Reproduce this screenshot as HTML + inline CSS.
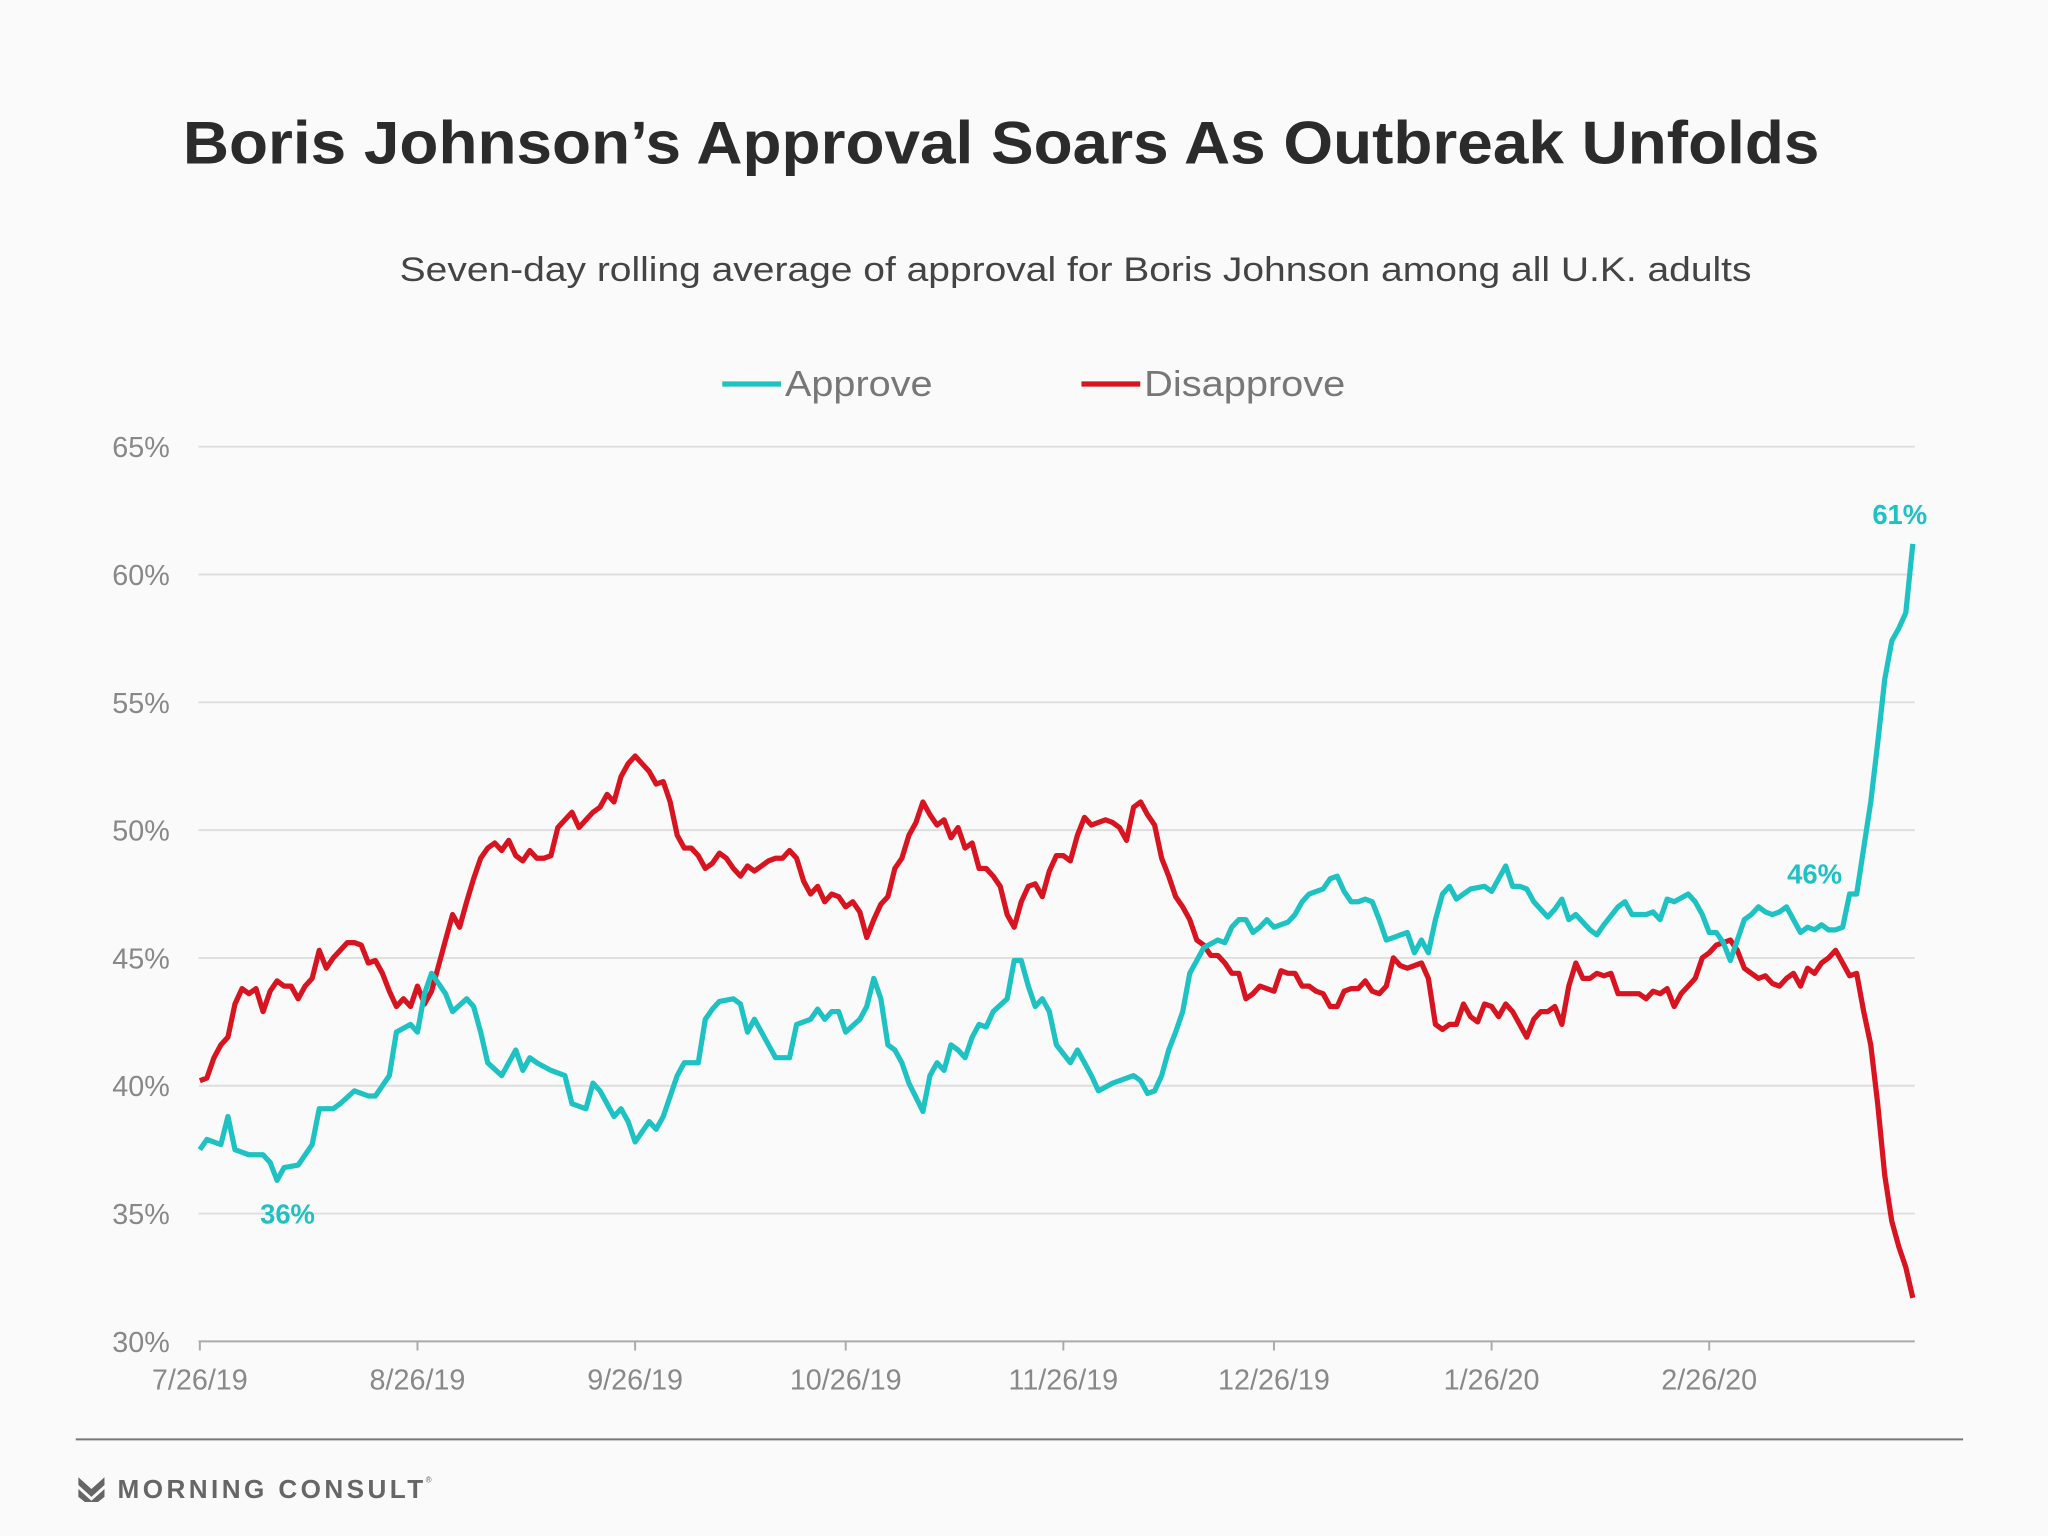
<!DOCTYPE html>
<html><head><meta charset="utf-8"><style>
html,body{margin:0;padding:0;background:#fafafa;}
svg{display:block;font-family:"Liberation Sans",sans-serif;}
</style></head><body>
<svg id="chart" width="2048" height="1536" viewBox="0 0 1568 1176" xmlns="http://www.w3.org/2000/svg">
<rect width="1568" height="1176" fill="#fafafa"/>
<text x="140" y="125" font-size="46" font-weight="bold" fill="#2b2b2b" textLength="1253" lengthAdjust="spacingAndGlyphs">Boris Johnson’s Approval Soars As Outbreak Unfolds</text>
<text x="306" y="215" font-size="26" fill="#444" textLength="1035" lengthAdjust="spacingAndGlyphs">Seven-day rolling average of approval for Boris Johnson among all U.K. adults</text>
<g>
 <g>
  <line x1="553" y1="294" x2="598" y2="294" stroke="#1fc2c2" stroke-width="4"/>
  <text x="601" y="303" font-size="28" fill="#777" textLength="113" lengthAdjust="spacingAndGlyphs">Approve</text>
 </g>
 <g>
  <line x1="828" y1="294" x2="873" y2="294" stroke="#d7141f" stroke-width="4"/>
  <text x="876" y="303" font-size="28" fill="#777" textLength="154" lengthAdjust="spacingAndGlyphs">Disapprove</text>
 </g>
</g>
<g id="grid"></g>
<g id="yaxis"></g>
<g id="xaxis"></g>
<g id="series"></g>
<g id="annots"></g>
<line x1="58" y1="1102" x2="1503" y2="1102" stroke="#777" stroke-width="1.5"/>
<g>
 <path d="M60 1131 L70 1140 L80 1131 L80 1137 L70 1146 L60 1137 Z M60 1140 L70 1149 L80 1140 L80 1146 L75 1150 L65 1150 L60 1146 Z" fill="#666"/>
 <text x="90" y="1147" font-size="20" font-weight="bold" fill="#666" textLength="234" lengthAdjust="spacing">MORNING CONSULT</text>
 <text x="326" y="1135" font-size="6" fill="#666">®</text>
</g>
</svg>
<script>
const yTicks = [30,35,40,45,50,55,60,65];
const yTickLabels = ["30%","35%","40%","45%","50%","55%","60%","65%"];
const xTickDays = [0,31,62,92,123,153,184,215];
const xTickLabels = ["7/26/19","8/26/19","9/26/19","10/26/19","11/26/19","12/26/19","1/26/20","2/26/20"];
const approveDays = [0,1,3,4,5,7,9,10,11,12,14,16,17,19,20,22,24,25,27,28,30,31,32,33,35,36,38,39,40,41,43,45,46,47,48,50,52,53,55,56,57,59,60,61,62,64,65,66,68,69,71,72,73,74,76,77,78,79,81,82,84,85,87,88,89,90,91,92,94,95,96,97,98,99,100,101,103,104,105,106,107,108,109,110,111,112,113,115,116,117,118,119,120,121,122,124,125,126,127,128,130,131,133,134,135,136,137,138,139,140,141,142,143,145,146,147,148,149,150,151,152,153,155,156,157,158,160,161,162,163,164,165,166,167,168,169,170,172,173,174,175,176,177,178,179,180,181,183,184,185,186,187,188,189,190,191,192,193,194,195,196,198,199,200,202,203,204,206,207,208,209,210,212,213,214,215,216,217,218,220,221,222,223,224,225,226,227,228,229,230,231,232,233,234,235,236,237,238,239,240,241,242,243,244];
const approveVals = [37.5,37.9,37.7,38.8,37.5,37.3,37.3,37.0,36.3,36.8,36.9,37.7,39.1,39.1,39.3,39.8,39.6,39.6,40.4,42.1,42.4,42.1,43.6,44.4,43.6,42.9,43.4,43.1,42.1,40.9,40.4,41.4,40.6,41.1,40.9,40.6,40.4,39.3,39.1,40.1,39.8,38.8,39.1,38.6,37.8,38.6,38.3,38.8,40.4,40.9,40.9,42.6,43.0,43.3,43.4,43.2,42.1,42.6,41.6,41.1,41.1,42.4,42.6,43.0,42.6,42.9,42.9,42.1,42.6,43.1,44.2,43.4,41.6,41.4,40.9,40.1,39.0,40.4,40.9,40.6,41.6,41.4,41.1,41.9,42.4,42.3,42.9,43.4,44.9,44.9,43.9,43.1,43.4,42.9,41.6,40.9,41.4,40.9,40.4,39.8,40.1,40.2,40.4,40.2,39.7,39.8,40.4,41.4,42.1,42.9,44.4,44.9,45.4,45.7,45.6,46.2,46.5,46.5,46.0,46.2,46.5,46.2,46.4,46.7,47.2,47.5,47.7,48.1,48.2,47.6,47.2,47.2,47.3,47.2,46.5,45.7,45.8,46.0,45.2,45.7,45.2,46.5,47.5,47.8,47.3,47.5,47.7,47.8,47.6,48.1,48.6,47.8,47.8,47.7,47.2,46.9,46.6,46.9,47.3,46.5,46.7,46.1,45.9,46.3,47.0,47.2,46.7,46.7,46.8,46.5,47.3,47.2,47.5,47.2,46.7,46.0,46.0,45.6,44.9,46.5,46.7,47.0,46.8,46.7,46.8,47.0,46.5,46.0,46.2,46.1,46.3,46.1,46.1,46.2,47.5,47.5,49.3,51.1,53.4,55.9,57.4,57.9,58.5,61.2];
const disapproveVals = [40.2,40.3,41.1,41.6,41.9,43.2,43.8,43.6,43.8,42.9,43.7,44.1,43.9,43.9,43.4,43.9,44.2,45.3,44.6,45.0,45.3,45.6,45.6,45.5,44.8,44.9,44.4,43.7,43.1,43.4,43.1,43.9,43.2,43.7,44.7,45.7,46.7,46.2,47.2,48.1,48.9,49.3,49.5,49.2,49.6,49.0,48.8,49.2,48.9,48.9,49.0,50.1,50.4,50.7,50.1,50.4,50.7,50.9,51.4,51.1,52.1,52.6,52.9,52.6,52.3,51.8,51.9,51.1,49.8,49.3,49.3,49.0,48.5,48.7,49.1,48.9,48.5,48.2,48.6,48.4,48.6,48.8,48.9,
48.9,49.2,48.9,48.0,47.5,47.8,47.2,47.5,47.4,47.0,47.2,46.8,45.8,46.5,47.1,47.4,48.5,48.9,49.8,50.3,51.1,50.6,50.2,50.4,49.7,50.1,49.3,49.5,48.5,48.5,48.2,47.8,46.7,46.2,47.2,47.8,47.9,47.4,48.4,49.0,49.0,48.8,49.8,50.5,50.2,50.3,50.4,50.3,50.1,49.6,50.9,51.1,50.6,50.2,48.9,48.2,47.4,47.0,46.5,45.7,45.5,45.1,45.1,44.8,44.4,44.4,43.4,43.6,43.9,43.8,43.7,44.5,44.4,44.4,43.9,43.9,43.7,43.6,43.1,43.1,43.7,43.8,43.8,44.1,43.7,43.6,43.9,45.0,44.7,44.6,44.7,44.8,44.2,42.4,42.2,42.4,42.4,43.2,42.7,42.5,43.2,43.1,42.7,43.2,42.9,42.4,41.9,42.6,42.9,42.9,43.1,42.4,43.9,44.8,44.2,44.2,44.4,44.3,44.4,43.6,43.6,43.6,43.6,43.4,43.7,43.6,43.8,43.1,43.6,43.9,44.2,45.0,45.2,45.5,45.6,45.7,45.3,44.6,44.4,44.2,44.3,44.0,43.9,44.2,44.4,43.9,44.6,44.4,44.8,45.0,45.3,44.8,44.3,44.4,42.9,41.6,39.3,36.5,34.7,33.7,32.9,31.7];
const annotLabels = ["36%","46%","61%"];

const NS = "http://www.w3.org/2000/svg";
const X0 = 153, PXDAY = 5.375, YTOP = 342, YBOT = 1027;
function xs(d){ return X0 + PXDAY * d; }
function ys(v){ return YBOT - (YBOT - YTOP) * (v - 30) / 35; }
function mk(tag, attrs, parent){ const e = document.createElementNS(NS, tag); for (const k in attrs) e.setAttribute(k, attrs[k]); parent.appendChild(e); return e; }

const grid = document.getElementById('grid'), yax = document.getElementById('yaxis'), xax = document.getElementById('xaxis');
yTicks.forEach((v, i) => {
  if (v > 30) {
    const g = mk('line', {x1:152, x2:1466, y1:ys(v), y2:ys(v), stroke:'#dedede', 'stroke-width':1.5}, grid);
    
    
  }
  const t = mk('text', {x:130, y:ys(v)+8, 'text-anchor':'end', 'font-size':22, fill:'#888'}, yax);
  t.textContent = yTickLabels[i];
  
  
});
const base = mk('line', {x1:152, x2:1466, y1:YBOT, y2:YBOT, stroke:'#aaa', 'stroke-width':1.5}, xax);


xTickDays.forEach((d, i) => {
  const tk = mk('line', {x1:xs(d), x2:xs(d), y1:YBOT, y2:YBOT+7, stroke:'#aaa', 'stroke-width':1.5}, xax);
  
  
  const t = mk('text', {x:xs(d), y:YBOT+37, 'text-anchor':'middle', 'font-size':22, fill:'#888'}, xax);
  t.textContent = xTickLabels[i];
  
  
});

const series = document.getElementById('series');
const dPts = disapproveVals.map((v, i) => xs(i).toFixed(1) + ',' + ys(v).toFixed(1)).join(' ');
const pd = mk('polyline', {points:dPts, fill:'none', stroke:'#d7141f', 'stroke-width':4, 'stroke-linejoin':'round'}, series);


const aPts = approveVals.map((v, i) => xs(approveDays[i]).toFixed(1) + ',' + ys(v).toFixed(1)).join(' ');
const pa = mk('polyline', {points:aPts, fill:'none', stroke:'#1fc2c2', 'stroke-width':4, 'stroke-linejoin':'round'}, series);



const annots = document.getElementById('annots');
let minI = 0; approveVals.forEach((v, i) => { if (v < approveVals[minI]) minI = i; });
const lastI = approveVals.length - 1;
const idx46 = approveDays.indexOf(222);
const anchors = [
  [xs(approveDays[minI]) + 8, ys(approveVals[minI]) + 33],
  [xs(approveDays[idx46]) + 43, ys(approveVals[idx46]) - 18],
  [xs(approveDays[lastI]) - 10, ys(approveVals[lastI]) - 15]
];
annotLabels.forEach((lab, i) => {
  const t = mk('text', {x:anchors[i][0], y:anchors[i][1], 'text-anchor':'middle', 'font-size':21, 'font-weight':'bold', fill:'#1fc2c2'}, annots);
  t.textContent = lab;
  
  
});
</script>
</body></html>
